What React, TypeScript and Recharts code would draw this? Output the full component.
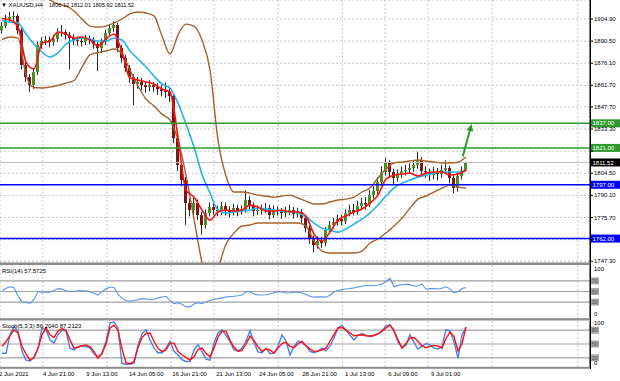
import React from 'react';
import { ComposedChart, LineChart, Line, Bar, XAxis, YAxis, CartesianGrid, ReferenceLine } from 'recharts';

const FONT = 'Liberation Sans, Arial, sans-serif';

// ---- candles (one per bar) ----
const firstOpen = 1897.5;
const closes = [
  1900.4, 1904.2, 1906.2, 1906.9, 1897.7, 1875.0, 1867.1, 1861.9, 1870.4, 1888.0,
  1890.6, 1891.2, 1889.9, 1891.9, 1895.8, 1896.4, 1894.5, 1892.5, 1891.2, 1890.6,
  1890.2, 1891.9, 1891.2, 1888.6, 1886.0, 1889.9, 1895.8, 1899.0, 1901.0, 1886.0,
  1879.5, 1873.0, 1867.1, 1862.6, 1863.9, 1861.9, 1860.6, 1861.9, 1860.6, 1859.3,
  1858.0, 1857.4, 1854.8, 1827.4, 1809.9, 1800.1, 1785.1, 1780.6, 1785.1, 1777.3,
  1770.8, 1778.6, 1782.5, 1780.6, 1779.9, 1783.2, 1780.6, 1779.3, 1781.9, 1779.9,
  1780.9, 1787.1, 1783.8, 1779.9, 1780.6, 1781.2, 1782.0, 1777.3, 1780.6, 1779.9,
  1778.6, 1779.3, 1780.6, 1777.9, 1779.3, 1775.3, 1768.8, 1762.3, 1757.8, 1760.4,
  1759.1, 1767.5, 1770.8, 1772.7, 1774.7, 1773.2, 1778.5, 1780.6, 1779.4, 1783.2,
  1785.1, 1784.0, 1790.3, 1792.9, 1798.8, 1805.3, 1811.2, 1805.3, 1801.4, 1804.6,
  1805.9, 1806.6, 1807.9, 1809.9, 1813.1, 1805.9, 1805.3, 1803.4, 1805.3, 1804.0,
  1806.6, 1807.9, 1801.4, 1794.9, 1802.7, 1806.1, 1811.5,
];
const highs = [
  1903.0, 1907.5, 1909.5, 1909.8, 1908.5, 1899.0, 1878.0, 1869.0, 1872.5, 1890.0,
  1893.0, 1894.0, 1893.5, 1894.5, 1899.0, 1901.0, 1898.0, 1896.5, 1895.0, 1893.5,
  1893.0, 1894.5, 1894.0, 1893.0, 1890.0, 1892.0, 1898.0, 1901.5, 1903.5, 1902.5,
  1888.0, 1881.5, 1875.0, 1869.0, 1867.0, 1866.5, 1864.5, 1865.0, 1864.0, 1863.0,
  1862.0, 1863.5, 1860.0, 1856.5, 1829.5, 1812.0, 1802.0, 1788.0, 1788.5, 1787.5,
  1779.5, 1781.0, 1785.5, 1785.0, 1783.5, 1786.0, 1785.5, 1783.0, 1784.5, 1784.0,
  1783.5, 1793.5, 1789.5, 1785.5, 1783.5, 1784.0, 1785.0, 1784.0, 1783.5, 1783.0,
  1782.0, 1782.5, 1784.0, 1782.5, 1782.0, 1781.0, 1777.0, 1770.5, 1764.0, 1763.5,
  1763.0, 1769.5, 1773.5, 1775.5, 1777.5, 1777.5, 1781.0, 1784.0, 1784.5, 1786.5,
  1788.5, 1789.0, 1793.5, 1796.0, 1802.0, 1809.0, 1814.5, 1813.0, 1807.5, 1807.0,
  1809.0, 1810.0, 1811.0, 1813.0, 1818.5, 1815.0, 1809.0, 1807.5, 1808.5, 1808.0,
  1810.0, 1813.0, 1809.5, 1803.0, 1805.0, 1809.0, 1812.0,
];
const lows = [
  1895.5, 1899.0, 1902.5, 1903.0, 1895.0, 1872.0, 1864.0, 1857.5, 1859.5, 1868.5,
  1885.5, 1888.0, 1886.5, 1887.5, 1890.0, 1893.5, 1891.5, 1872.0, 1888.0, 1887.5,
  1887.0, 1888.0, 1888.5, 1885.5, 1871.0, 1883.0, 1888.0, 1894.0, 1896.5, 1883.5,
  1876.5, 1870.5, 1863.5, 1849.0, 1859.5, 1858.5, 1857.0, 1858.0, 1857.5, 1855.5,
  1854.5, 1853.5, 1851.0, 1824.0, 1806.0, 1796.0, 1771.0, 1776.5, 1777.5, 1774.0,
  1764.5, 1768.5, 1776.5, 1777.5, 1776.5, 1777.5, 1777.0, 1776.0, 1777.0, 1776.5,
  1777.5, 1779.0, 1781.0, 1776.5, 1777.5, 1777.5, 1778.5, 1774.5, 1775.5, 1777.0,
  1775.0, 1776.0, 1777.5, 1775.0, 1776.0, 1772.0, 1766.0, 1758.5, 1753.0, 1755.5,
  1756.0, 1757.0, 1765.5, 1768.5, 1770.5, 1770.5, 1771.5, 1776.5, 1777.0, 1777.5,
  1780.5, 1781.0, 1782.5, 1788.0, 1790.5, 1796.5, 1803.0, 1801.5, 1797.0, 1799.0,
  1801.5, 1803.0, 1804.0, 1805.5, 1807.5, 1802.0, 1801.5, 1799.5, 1800.5, 1800.0,
  1801.5, 1804.0, 1798.0, 1791.5, 1792.5, 1800.5, 1805.9,
];

// ---- overlays (every second bar) ----
const upperBand = [
  1924.4, 1927.0, 1929.6, 1929.0, 1927.0, 1922.5, 1917.3, 1914.7, 1913.4, 1910.1,
  1904.9, 1900.3, 1899.7, 1900.3, 1902.3, 1904.9, 1908.2, 1909.5, 1908.8, 1906.9,
  1893.8, 1882.1, 1894.5, 1901.6, 1900.3, 1891.2, 1871.7, 1826.1, 1802.7, 1792.3,
  1792.3, 1791.6, 1790.3, 1789.7, 1789.0, 1789.7, 1790.3, 1788.4, 1786.4, 1784.5,
  1784.5, 1785.8, 1787.1, 1787.7, 1789.0, 1792.3, 1794.9, 1801.4, 1807.3, 1811.2,
  1811.8, 1812.5, 1813.1, 1812.5, 1811.8, 1811.2, 1811.2, 1811.8, 1815.1,
];
const lowerBand = [
  1891.5, 1893.2, 1892.5, 1868.5, 1860.3, 1860.0, 1860.6, 1861.6, 1863.2, 1864.9,
  1873.6, 1881.5, 1883.1, 1884.1, 1885.4, 1882.1, 1871.7, 1861.3, 1852.8, 1848.3,
  1843.0, 1839.2, 1826.1, 1803.3, 1774.7, 1746.7, 1731.7, 1742.8, 1758.4, 1765.6,
  1770.2, 1770.8, 1772.1, 1772.1, 1772.1, 1772.1, 1772.1, 1772.1, 1770.2, 1760.4,
  1753.9, 1752.6, 1752.6, 1752.6, 1752.6, 1753.9, 1759.1, 1761.7, 1765.6, 1770.2,
  1775.3, 1781.9, 1787.7, 1789.7, 1792.3, 1794.9, 1796.8, 1795.5, 1794.9,
];
const fastMA = [
  1905.2, 1904.2, 1899.7, 1876.9, 1872.4, 1889.3, 1890.6, 1896.4, 1895.1, 1892.5,
  1893.2, 1891.2, 1887.3, 1891.9, 1895.1, 1883.4, 1866.5, 1865.2, 1863.9, 1862.6,
  1859.3, 1857.4, 1828.1, 1793.6, 1789.0, 1780.6, 1774.0, 1779.3, 1780.6, 1779.9,
  1780.6, 1783.8, 1782.5, 1779.9, 1779.9, 1780.6, 1779.3, 1779.3, 1776.7, 1764.9,
  1760.4, 1766.2, 1774.0, 1776.7, 1779.3, 1781.2, 1785.1, 1790.3, 1800.7, 1803.3,
  1804.0, 1804.6, 1802.7, 1804.6, 1805.3, 1805.3, 1803.3, 1804.0, 1806.6,
];
const slowMA = [
  1903.9, 1902.9, 1902.3, 1895.1, 1888.6, 1883.4, 1880.2, 1882.8, 1888.6, 1891.2,
  1892.5, 1891.9, 1890.6, 1890.6, 1892.5, 1891.2, 1884.1, 1878.9, 1873.7, 1867.8,
  1862.6, 1860.0, 1850.2, 1836.5, 1821.6, 1804.0, 1791.6, 1780.6, 1778.6, 1779.3,
  1779.9, 1780.6, 1781.9, 1781.2, 1780.6, 1779.9, 1779.3, 1778.6, 1776.0, 1772.1,
  1768.8, 1767.5, 1766.2, 1768.2, 1771.4, 1774.7, 1778.6, 1783.8, 1789.7, 1794.9,
  1798.1, 1800.1, 1802.0, 1803.3, 1804.6, 1805.3, 1805.3, 1805.3, 1806.0,
];

// ---- oscillators (one per bar) ----
const rsi = [
  52, 56, 59, 57, 42, 30, 29.5, 27.5, 35, 49.6,
  48.8, 48.5, 48.5, 52, 55.5, 54.5, 51.5, 50, 50.5, 51.5,
  51.5, 51.5, 49.5, 46.5, 43.3, 49.6, 55, 58, 58, 45,
  37.5, 33, 31.5, 33, 34.5, 36.5, 36, 34.5, 35, 38,
  39.5, 41, 33, 27, 29, 26, 21, 21.5, 26.5, 29,
  27, 30, 33, 35.5, 36.5, 38, 39.5, 40.5, 41, 42,
  43.3, 49, 50, 45.5, 43.3, 43.3, 44, 45.8, 47.5, 49,
  49, 47.2, 47.5, 49, 48.8, 47.5, 44.5, 41, 39.3, 39.8,
  39.8, 39.3, 43, 49, 52, 53.5, 54.7, 55.6, 56.9, 58.4,
  59.8, 61.2, 61.2, 60.8, 62.2, 64.3, 68.5, 75, 59, 61.5,
  62.8, 63.8, 63, 60.5, 60.5, 64.3, 54.2, 55.5, 55.6, 54.7,
  56, 59, 55, 48, 49.5, 55.5, 57.6,
];
const stochK = [
  30, 30, 70, 88, 78, 34, 15, 13, 22, 41,
  85, 81, 59, 52, 70, 80, 78, 41, 37, 45,
  46, 45, 41, 28, 21, 31, 56, 96, 98, 85,
  8, 6, 6.5, 8, 48, 72, 81, 59, 41, 31,
  31, 41, 56, 34, 26, 16, 12, 12, 37, 49,
  34, 17, 15, 52, 74, 81, 69, 55, 37, 35,
  41, 56, 79, 53, 33, 31, 41, 29, 30, 45,
  70, 56, 26, 45, 56, 53, 46, 34, 31, 34,
  41, 35, 46, 63, 85, 91, 80, 69, 59, 69,
  73, 69, 67, 68, 72, 78, 90, 92, 81, 54,
  43, 48, 70, 53, 39, 45, 51, 48, 41, 39,
  45, 81, 78, 55, 19, 70, 86,
];
const stochD = [
  45, 55, 68, 81, 74, 45, 28, 15, 20, 40,
  70, 85, 70, 64, 78, 83, 80, 59, 41, 43,
  46, 48, 44, 34, 19, 29, 50, 85, 91, 80,
  40, 9, 7, 12, 42, 64, 73, 74, 56, 40,
  34, 37, 52, 52, 34, 26, 21, 15, 22, 38,
  41, 30, 22, 41, 65, 78, 78, 58, 43, 34,
  36, 50, 67, 58, 44, 34, 39, 37, 30, 41,
  51, 54, 45, 42, 50, 56, 46, 39, 34, 35,
  37, 41, 56, 71, 85, 86, 80, 74, 68, 69,
  70, 68, 67, 69, 72, 78, 85, 91, 78, 59,
  41, 51, 63, 64, 56, 46, 42, 45, 47, 46,
  41, 62, 76, 66, 35, 50, 87,
];

// ---- axes / levels ----
const priceTicks = [1904.9, 1890.5, 1876.1, 1861.7, 1847.7, 1833.3, 1818.9, 1804.5, 1790.1, 1775.7, 1761.3, 1747.3];
const dateTicks = [-1, 10, 20.8, 31.5, 42.3, 53.3, 64, 74.8, 85.5, 96.3, 107];
const dateLabels = ['2 Jun 2021', '4 Jun 21:00', '9 Jun 13:00', '14 Jun 05:00', '16 Jun 21:00', '21 Jun 13:00', '24 Jun 05:00', '28 Jun 21:00', '1 Jul 13:00', '6 Jul 09:00', '9 Jul 01:00'];
const greenLevels = [1837.0, 1821.0];
const blueLevels = [1797.0, 1762.0];
const lastPrice = 1811.52;
const rsiLevels = [70, 50, 30];
const stochLevels = [80, 50, 20];
const arrowFrom = { i: 115.2, p: 1815.5 };
const arrowTo = { i: 117.4, p: 1836.5 };

const X_DOMAIN: [number, number] = [-0.5, 147];
const P_DOMAIN: [number, number] = [1746.1, 1917.27];
const gridTicks = Array.from({ length: 28 }, (_, k) => k * 5.35 - 0.5);
const taggedPrices = [...greenLevels, ...blueLevels, lastPrice];

const rows = closes.map((c, i) => ({
  i,
  o: i === 0 ? firstOpen : closes[i - 1],
  c,
  h: highs[i],
  l: lows[i],
  range: [lows[i], highs[i]],
  rsi: rsi[i],
  k: stochK[i],
  d: stochD[i],
}));

const overlayRows = upperBand.map((bu, j) => ({
  i: j * 2,
  bu,
  bl: lowerBand[j],
  fast: fastMA[j],
  slow: slowMA[j],
}));

const BROWN = '#a5622c';
const GREEN = '#2e9a2e';
const BLUE = '#0000ff';
const GRID = '#c6c6c6';

const Candle = (props: any) => {
  let { x, y, width, height, payload } = props;
  if (x == null || height == null || !payload) return null;
  if (height < 0) { y += height; height = -height; }
  const { o, c, h, l } = payload;
  const ratio = height / Math.max(0.0001, h - l);
  const cx = x + width / 2;
  const top = y + (h - Math.max(o, c)) * ratio;
  const bh = Math.max(1, Math.abs(o - c) * ratio);
  const up = c >= o;
  return (
    <g>
      <line x1={cx} x2={cx} y1={y} y2={y + height} stroke="#2a2a2a" strokeWidth={1} />
      <rect x={x} y={top} width={width} height={bh} fill={up ? '#4f8d2b' : '#7a1616'} />
    </g>
  );
};

// price labels hidden behind a price tag in the reference are not drawn
const PriceTick = (props: any) => {
  const { x, y, payload } = props;
  const v = Number(payload.value);
  if (taggedPrices.some((t) => Math.abs(t - v) < 3)) return null;
  return (
    <text x={x} y={y} dy={2.1} fontSize={6} fontFamily={FONT} fill="#000" textAnchor="start">
      {v.toFixed(2)}
    </text>
  );
};

const makeOscTick = (topShift: number, bottomShift: number) => (props: any) => {
  const { x, y, payload } = props;
  const shift = payload.value >= 100 ? topShift : bottomShift;
  return (
    <text x={x} y={y + shift} dy={2.1} fontSize={6} fontFamily={FONT} fill="#000" textAnchor="start">
      {payload.value}
    </text>
  );
};

const tagLabel = (text: string, fill: string) => (p: any) => {
  const vb = p.viewBox || {};
  const x = (vb.x || 0) + (vb.width || 0);
  const y = vb.y || 0;
  return (
    <g>
      <rect x={x} y={y - 4} width={30} height={8} fill={fill} />
      <text x={x + 2.5} y={y} dy={2.1} fontSize={6} fontFamily={FONT} fill="#fff">{text}</text>
    </g>
  );
};

const levelLabel = (text: string) => (p: any) => {
  const vb = p.viewBox || {};
  const x = (vb.x || 0) + (vb.width || 0);
  const y = vb.y || 0;
  return (
    <g>
      <rect x={x + 1} y={y - 3.5} width={8} height={7} fill="#a6a6a6" />
      <text x={x + 1.8} y={y} dy={2.1} fontSize={5.5} fontFamily={FONT} fill="#555">{text}</text>
    </g>
  );
};

const ArrowShape = (p: any) => {
  const { x1, y1, x2, y2 } = p;
  if ([x1, y1, x2, y2].some((v) => v == null || isNaN(v))) return null;
  const dx = x2 - x1;
  const dy = y2 - y1;
  const len = Math.sqrt(dx * dx + dy * dy) || 1;
  const ux = dx / len;
  const uy = dy / len;
  const hl = 7;
  const hw = 3.5;
  const bx = x2 - ux * hl;
  const by = y2 - uy * hl;
  const pts = `${x2},${y2} ${bx - uy * hw},${by + ux * hw} ${bx + uy * hw},${by - ux * hw}`;
  return (
    <g>
      <line x1={x1} y1={y1} x2={bx} y2={by} stroke={GREEN} strokeWidth={2} />
      <polygon points={pts} fill={GREEN} />
    </g>
  );
};

const DateTick = (props: any) => {
  const { x, y, payload } = props;
  const idx = dateTicks.indexOf(payload.value);
  return (
    <text x={x + 1} y={y + 7} fontSize={6} fontFamily={FONT} fill="#000" textAnchor="start">
      {idx >= 0 ? dateLabels[idx] : ''}
    </text>
  );
};

export default function App() {
  return (
    <div style={{ position: 'absolute', left: 0, top: 0, width: 620, height: 381, background: '#fff', overflow: 'hidden' }}>
      <div style={{ position: 'absolute', left: 0, top: 0 }}>
        <ComposedChart width={620} height={263} data={rows} margin={{ top: 0, right: 0, bottom: 0, left: 0 }}>
          <CartesianGrid stroke={GRID} strokeDasharray="2 2" />
          <XAxis dataKey="i" type="number" domain={X_DOMAIN} ticks={gridTicks} hide height={0} allowDataOverflow />
          <YAxis
            orientation="right"
            width={30}
            type="number"
            domain={P_DOMAIN}
            allowDataOverflow
            ticks={priceTicks}
            interval={0}
            tick={<PriceTick />}
            tickSize={3}
            tickMargin={1}
            axisLine={{ stroke: '#000' }}
            tickLine={{ stroke: '#000' }}
          />
          <ReferenceLine y={lastPrice} stroke="#c0c0c0" strokeWidth={1} label={tagLabel(lastPrice.toFixed(2), '#000')} />
          <Bar dataKey="range" barSize={3} shape={<Candle />} isAnimationActive={false} />
          <Line data={overlayRows} dataKey="bu" type="monotone" stroke={BROWN} strokeWidth={1.4} dot={false} activeDot={false} isAnimationActive={false} />
          <Line data={overlayRows} dataKey="bl" type="monotone" stroke={BROWN} strokeWidth={1.4} dot={false} activeDot={false} isAnimationActive={false} />
          <Line data={overlayRows} dataKey="slow" type="monotone" stroke="#22b4ea" strokeWidth={1.6} dot={false} activeDot={false} isAnimationActive={false} />
          <Line data={overlayRows} dataKey="fast" type="monotone" stroke="#ff1010" strokeWidth={1.6} dot={false} activeDot={false} isAnimationActive={false} />
          {greenLevels.map((v) => (
            <ReferenceLine key={'g' + v} y={v} stroke={GREEN} strokeWidth={1.5} label={tagLabel(v.toFixed(2), GREEN)} />
          ))}
          {blueLevels.map((v) => (
            <ReferenceLine key={'b' + v} y={v} stroke={BLUE} strokeWidth={1.5} label={tagLabel(v.toFixed(2), BLUE)} />
          ))}
          <ReferenceLine
            segment={[{ x: arrowFrom.i, y: arrowFrom.p }, { x: arrowTo.i, y: arrowTo.p }]}
            shape={(p: any) => <ArrowShape {...p} />}
          />
        </ComposedChart>
      </div>

      <div style={{ position: 'absolute', left: 0, top: 265 }}>
        <LineChart width={620} height={53} data={rows} margin={{ top: 0, right: 0, bottom: 0, left: 0 }}>
          <CartesianGrid horizontal={false} stroke={GRID} strokeDasharray="2 2" />
          <XAxis dataKey="i" type="number" domain={X_DOMAIN} ticks={gridTicks} hide height={0} allowDataOverflow />
          <YAxis
            orientation="right"
            width={30}
            type="number"
            domain={[0, 100]}
            ticks={[0, 100]}
            interval={0}
            tick={makeOscTick(3.7, -4.6)}
            tickSize={3}
            tickMargin={1}
            axisLine={{ stroke: '#000' }}
            tickLine={false}
          />
          {rsiLevels.map((v) => (
            <ReferenceLine key={'r' + v} y={v} stroke="#a2a2a2" strokeWidth={1.2} label={levelLabel(String(v))} />
          ))}
          <Line dataKey="rsi" type="linear" stroke="#5a94ea" strokeWidth={1.1} dot={false} activeDot={false} isAnimationActive={false} />
        </LineChart>
      </div>

      <div style={{ position: 'absolute', left: 0, top: 321 }}>
        <LineChart width={620} height={60} data={rows} margin={{ top: 0, right: 0, bottom: 0, left: 0 }}>
          <CartesianGrid horizontal={false} stroke={GRID} strokeDasharray="2 2" />
          <XAxis
            xAxisId="dates"
            dataKey="i"
            type="number"
            domain={X_DOMAIN}
            ticks={dateTicks}
            interval={0}
            height={14}
            axisLine={false}
            tickLine={false}
            tickSize={2}
            tickMargin={0}
            tick={<DateTick />}
            allowDataOverflow
          />
          <XAxis dataKey="i" type="number" domain={X_DOMAIN} ticks={gridTicks} hide height={0} allowDataOverflow />
          <YAxis
            orientation="right"
            width={30}
            type="number"
            domain={[0, 100]}
            ticks={[0, 100]}
            interval={0}
            tick={makeOscTick(2.2, -4)}
            tickSize={3}
            tickMargin={1}
            axisLine={{ stroke: '#000' }}
            tickLine={false}
          />
          {stochLevels.map((v) => (
            <ReferenceLine key={'s' + v} y={v} stroke="#a2a2a2" strokeWidth={1.2} label={levelLabel(String(v))} />
          ))}
          <Line dataKey="k" type="linear" stroke="#4f7ee8" strokeWidth={1.4} dot={false} activeDot={false} isAnimationActive={false} />
          <Line dataKey="d" type="linear" stroke="#ff1010" strokeWidth={1.4} dot={false} activeDot={false} isAnimationActive={false} />
        </LineChart>
      </div>

      <svg width={620} height={381} style={{ position: 'absolute', left: 0, top: 0, pointerEvents: 'none' }}>
        <rect x={0} y={262.5} width={590} height={2.5} fill="#8c8c8c" />
        <rect x={0} y={318.2} width={590} height={2.3} fill="#8c8c8c" />
        <rect x={0} y={366.8} width={590} height={2} fill="#8c8c8c" />
        <line x1={590.5} x2={590.5} y1={0} y2={369} stroke="#000" strokeWidth={1} />
        <text x={1} y={7} fontSize={6} fontFamily={FONT} fill="#000">{'▼ XAUUSD,H4'}</text>
        <text x={49} y={7} fontSize={5.6} fontFamily={FONT} fill="#000">1806.12 1812.01 1805.92 1811.52</text>
        <text x={2} y={273} fontSize={6} fontFamily={FONT} fill="#000">RSI(14) 57.5725</text>
        <text x={2} y={327.5} fontSize={6} fontFamily={FONT} fill="#000">Stoch(5,3,3) 86.2040 87.2123</text>
      </svg>
    </div>
  );
}
